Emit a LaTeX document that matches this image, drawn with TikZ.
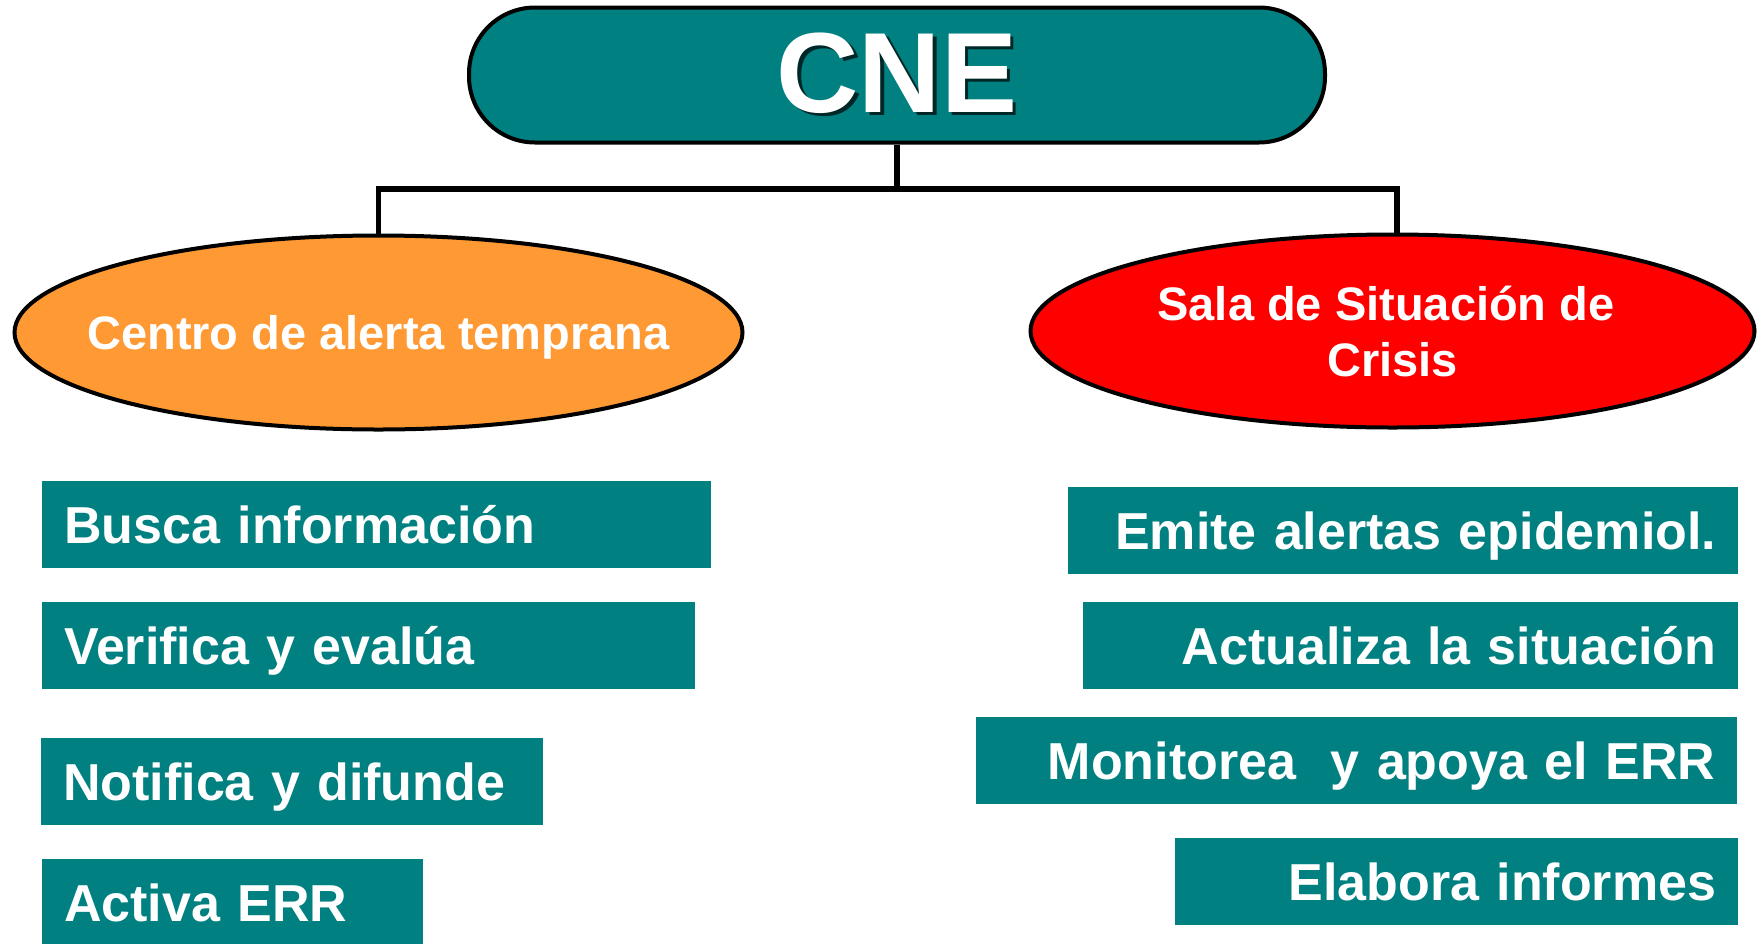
\documentclass[tikz,border=0pt]{standalone}
\usepackage{fontspec}
\setmainfont{Liberation Sans}
\usetikzlibrary{shapes.geometric}
\definecolor{cneteal}{RGB}{0,128,128}
\definecolor{alertorange}{RGB}{255,153,51}
\definecolor{crisisred}{RGB}{255,0,0}
\newcommand{\shadowtext}[1]{\makebox[0pt][l]{\hspace{3.5pt}\raisebox{-3.5pt}{\color{black!70!cneteal}#1}}#1}

\begin{document}
\begin{tikzpicture}[x=1pt, y=-1pt,
  head/.style = {draw, line width=4pt, fill=cneteal, rounded corners=66pt, minimum width=856pt, minimum height=135pt, inner sep=0pt, text=white, font=\bfseries\fontsize{114}{120}\selectfont},
  unit/.style = {draw, ellipse, line width=4pt, inner sep=0pt, text=white, align=center, font=\bfseries\fontsize{47}{56}\selectfont},
  task/.style = {fill=cneteal, text=white, anchor=north west, minimum height=87pt, inner xsep=22pt, inner ysep=0pt, text height=37pt, text depth=0pt, font=\bfseries\fontsize{52}{60}\selectfont},
  taskleft/.style = {task, align=left, text width=#1},
  taskright/.style = {task, align=right, text width=#1},
  conn/.style = {line width=5.5pt}]
\useasboundingbox (0,0) rectangle (1759,943);

%% top and the two units
\node[head] (cne) at (897,75) {\shadowtext{CNE}};
\node[unit, fill=alertorange, minimum width=728pt, minimum height=194pt, inner xsep=-80pt, text height=34pt, text depth=0pt] (alerta) at (378.5,332.5) {Centro de alerta temprana};
\node[unit, fill=crisisred, minimum width=724pt, minimum height=193pt] (sala) at (1392.5,331) {Sala de Situación de\makebox[13pt]{}\\Crisis};

%%% connectors
\coordinate (bar) at (897,189);
\draw[conn] (cne.south) -- (bar);
\draw[conn] (alerta.north) |- (bar) -| ([xshift=4.5pt]sala.north);

%% tasks of the alert centre
\node[taskleft=625pt] (busca) at (42,481) {Busca información};
\node[taskleft=609pt] (verifica) at (42,602) {Verifica y evalúa};
\node[taskleft=458pt] (notifica) at (41,738) {Notifica y difunde};
\node[taskleft=337pt] (activa) at (42,859) {Activa ERR};

%% tasks of the crisis room
\node[taskright=626pt] (emite) at (1068,487) {Emite alertas epidemiol.};
\node[taskright=611pt] (actualiza) at (1083,602) {Actualiza la situación};
\node[taskright=717pt] (monitorea) at (976,717) {Monitorea~ y apoya el ERR};
\node[taskright=519pt] (elabora) at (1175,838) {Elabora informes};

\end{tikzpicture}
\end{document}
